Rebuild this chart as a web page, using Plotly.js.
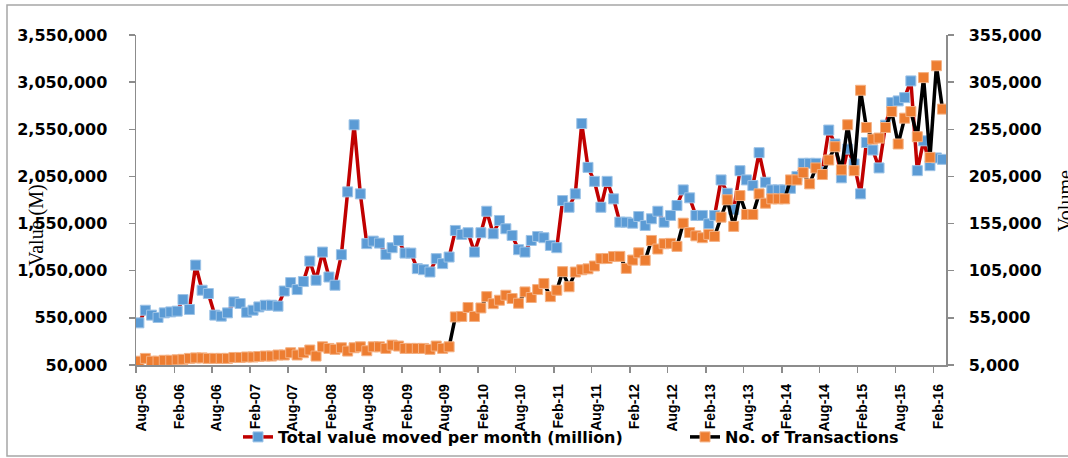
<!DOCTYPE html>
<html><head><meta charset="utf-8">
<script src="https://cdn.plot.ly/plotly-3.0.1.min.js"></script>
<style>html,body{margin:0;padding:0;background:#fff}#chart{width:1068px;height:458px}</style>
</head><body><div id="chart"></div>
<script>
// Monthly data, Aug-05 .. Mar-16
const valueMillion = [
  497000, 631000, 579000, 554000, 603000, 613000, 621000, 744000, 639000, 1110000,
  843000, 808000, 579000, 568000, 603000, 719000, 702000, 610000, 631000, 666000,
  684000, 684000, 674000, 835000, 924000, 850000, 935000, 1153000, 949000, 1248000,
  983000, 896000, 1220000, 1886000, 2598000, 1865000, 1337000, 1364000, 1343000, 1223000,
  1294000, 1371000, 1237000, 1237000, 1072000, 1061000, 1036000, 1178000, 1125000, 1195000,
  1477000, 1435000, 1453000, 1248000, 1453000, 1681000, 1442000, 1583000, 1495000, 1424000,
  1273000, 1248000, 1371000, 1413000, 1400000, 1318000, 1294000, 1794000, 1723000, 1865000,
  2611000, 2146000, 1998000, 1723000, 1998000, 1812000, 1565000, 1565000, 1554000, 1625000,
  1530000, 1601000, 1681000, 1565000, 1636000, 1741000, 1907000, 1823000, 1636000, 1636000,
  1548000, 1636000, 2013000, 1871000, 1700000, 2111000, 2013000, 1953000, 2302000, 1988000,
  1907000, 1907000, 1907000, 1924000, 2050000, 2189000, 2189000, 2189000, 2100000, 2542000,
  2394000, 2035000, 2340000, 2182000, 1865000, 2410000, 2330000, 2140000, 2594000, 2833000,
  2851000, 2886000, 3063000, 2111000, 2428000, 2164000, 2246000, 2231000
];
const transactions = [
  9000, 12000, 9000, 9000, 10000, 10000, 10500, 11000, 12000, 12500,
  12500, 12000, 12000, 12000, 12000, 13000, 13000, 13500, 13500, 14000,
  14500, 14500, 15600, 15600, 18000, 15600, 18000, 20900, 14500, 24300,
  22600, 21600, 23300, 19800, 23300, 24300, 20100, 24300, 24300, 22600,
  26100, 25100, 22600, 22600, 22600, 22600, 21600, 25100, 22600, 24300,
  56000, 56500, 66000, 56500, 65500, 77500, 70000, 73700, 79000, 75500,
  70500, 82500, 76600, 85000, 91500, 77500, 84300, 104000, 88000, 103600,
  106000, 107000, 110000, 117800, 118000, 120000, 120200, 107500, 116300, 124000,
  116000, 137100, 128000, 133600, 134000, 130800, 155400, 145500, 142000, 140000,
  143500, 141400, 161800, 180200, 152000, 184700, 164600, 164600, 186500, 176600,
  181200, 181200, 181200, 201300, 201300, 209000, 197100, 214000, 207000, 222400,
  236500, 211900, 259800, 211100, 296400, 256900, 244600, 245700, 256900, 273800,
  239400, 266800, 273800, 247100, 309800, 225200, 322400, 276400
];
const xTickLabels = ['Aug-05','Feb-06','Aug-06','Feb-07','Aug-07','Feb-08','Aug-08','Feb-09','Aug-09',
  'Feb-10','Aug-10','Feb-11','Aug-11','Feb-12','Aug-12','Feb-13','Aug-13','Feb-14','Aug-14','Feb-15','Aug-15','Feb-16'];
const seriesNames = ['Total value moved per month (million)', 'No. of Transactions'];

const monthDates = valueMillion.map((_, i) => {
  const d = new Date(Date.UTC(2005, 7 + i, 15));
  return d.toISOString().slice(0, 10);
});
const monIdx = {Jan:1,Feb:2,Mar:3,Apr:4,May:5,Jun:6,Jul:7,Aug:8,Sep:9,Oct:10,Nov:11,Dec:12};
const tickVals = xTickLabels.map(t => {
  const [m, y] = t.split('-');
  return '20' + y + '-' + String(monIdx[m]).padStart(2, '0') + '-01';
});

const L = 136, R = 946, T = 35, B = 365, W = 1068, H = 458;
const px = x => (x - L) / (R - L);
const py = y => (B - y) / (B - T);
const axisCol = '#8c8c8c';

const traces = [
  {x: monthDates, y: valueMillion, name: seriesNames[0], type: 'scatter', mode: 'lines+markers',
   line: {color: '#C00000', width: 3.5},
   marker: {symbol: 'square', size: 10, color: '#5B9BD5', line: {color: '#9DC3E6', width: 1}},
   yaxis: 'y', legend: 'legend'},
  {x: monthDates, y: transactions, name: seriesNames[1], type: 'scatter', mode: 'lines+markers',
   line: {color: '#000000', width: 3.5},
   marker: {symbol: 'square', size: 10, color: '#ED7D31', line: {color: '#F4B183', width: 1}},
   yaxis: 'y2', legend: 'legend2'}
];

const yTickFont = {family: 'DejaVu Sans, Verdana, sans-serif', size: 16, color: '#000', weight: 'bold'};
const legendFont = {family: 'DejaVu Sans, Verdana, sans-serif', size: 16, color: '#000', weight: 'bold'};
const layout = {
  width: W, height: H,
  margin: {l: L, r: W - R, t: T, b: H - B, autoexpand: false},
  paper_bgcolor: '#fff', plot_bgcolor: '#fff',
  showlegend: true,
  xaxis: {type: 'date', range: ['2005-08-01', '2016-04-01'],
    tickmode: 'array', tickvals: tickVals, ticktext: xTickLabels, tickangle: -90,
    ticks: 'outside', ticklen: 6, tickcolor: axisCol, tickwidth: 1.5,
    showline: true, linecolor: axisCol, linewidth: 1.5, showgrid: false, zeroline: false,
    tickfont: {family: 'Liberation Sans, Arial, sans-serif', size: 14, color: '#000', weight: 'bold'},
    ticklabelstandoff: 6, ticklabelshift: 5, automargin: false},
  yaxis: {range: [50000, 3550000], tickmode: 'linear', tick0: 50000, dtick: 500000, tickformat: ',d',
    ticks: 'outside', ticklen: 6, tickcolor: axisCol, tickwidth: 1.5,
    showline: true, linecolor: axisCol, linewidth: 1.5, showgrid: false, zeroline: false,
    tickfont: yTickFont, ticklabelstandoff: 18, automargin: false},
  yaxis2: {overlaying: 'y', side: 'right', range: [5000, 355000], tickmode: 'linear', tick0: 5000, dtick: 50000,
    tickformat: ',d', ticks: 'outside', ticklen: 6, tickcolor: axisCol, tickwidth: 1.5,
    showline: true, linecolor: axisCol, linewidth: 1.5, showgrid: false, zeroline: false,
    tickfont: yTickFont, ticklabelstandoff: 12, automargin: false},
  legend: {orientation: 'h', x: px(238), xanchor: 'left', y: py(437), yanchor: 'middle',
    font: legendFont, bgcolor: 'rgba(0,0,0,0)'},
  legend2: {orientation: 'h', x: px(685), xanchor: 'left', y: py(437), yanchor: 'middle',
    font: legendFont, bgcolor: 'rgba(0,0,0,0)'},
  annotations: [
    {text: 'Value (M)', xref: 'paper', yref: 'paper', x: px(37), y: py(225), textangle: -90,
     showarrow: false, xanchor: 'center', yanchor: 'middle',
     font: {family: 'Liberation Serif, Times New Roman, serif', size: 20, color: '#000'}},
    {text: 'Volume', xref: 'paper', yref: 'paper', x: px(1065), y: py(201), textangle: -90,
     showarrow: false, xanchor: 'center', yanchor: 'middle',
     font: {family: 'Liberation Serif, Times New Roman, serif', size: 20, color: '#000'}}
  ],
  shapes: [
    {type: 'rect', xref: 'paper', yref: 'paper', x0: px(7), x1: px(1090), y0: py(456), y1: py(5),
     line: {color: '#a6a6a6', width: 1.5}, fillcolor: 'rgba(0,0,0,0)', layer: 'below'}
  ]
};

Plotly.newPlot('chart', traces, layout, {displayModeBar: false, staticPlot: true});
</script>
</body></html>
